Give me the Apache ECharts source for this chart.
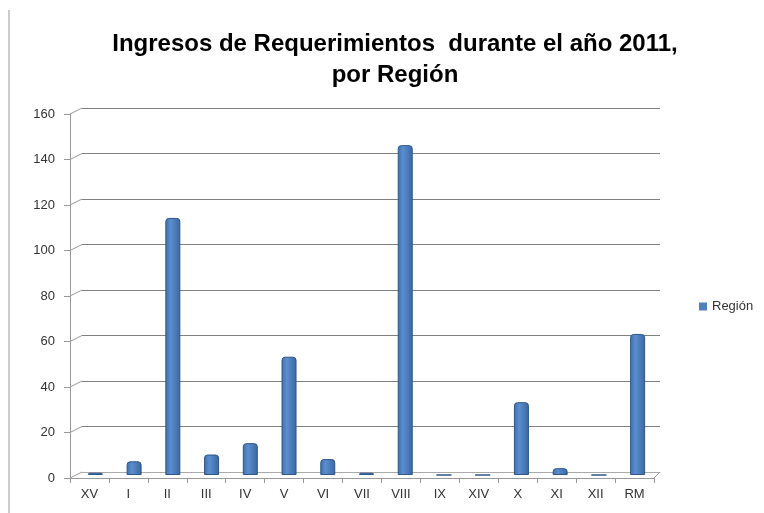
<!DOCTYPE html>
<html>
<head>
<meta charset="utf-8">
<script src="https://cdn.jsdelivr.net/npm/echarts@6/dist/echarts.min.js"></script>
<style>
  html, body { margin: 0; padding: 0; background: #fff; }
  #main { width: 764px; height: 513px; }
</style>
</head>
<body>
<div id="main"></div>
<script>
var regiones = ['XV', 'I', 'II', 'III', 'IV', 'V', 'VI', 'VII', 'VIII', 'IX', 'XIV', 'X', 'XI', 'XII', 'RM'];
var ingresos = [1, 6, 113, 9, 14, 52, 7, 1, 145, 0, 0, 32, 3, 0, 62];
var marcasY = [0, 20, 40, 60, 80, 100, 120, 140, 160];

var fuente = '"Liberation Sans", sans-serif';

var chart = echarts.init(document.getElementById('main'));
var option = {
    backgroundColor: '#fff',
    animation: false,
    title: {
        text: 'Ingresos de Requerimientos  durante el año 2011,\npor Región',
        left: 390,
        top: 24,
        textAlign: 'center',
        textStyle: {
            fontFamily: fuente,
            fontWeight: 'bold',
            fontSize: 24,
            lineHeight: 31,
            color: '#000'
        }
    },
    legend: {
        data: [{ name: 'Región', itemStyle: { color: '#4f81bd', borderWidth: 0 } }],
        left: 694,
        top: 295,
        itemWidth: 8,
        itemHeight: 8,
        itemGap: 5,
        icon: 'rect',
        textStyle: { fontFamily: fuente, fontSize: 13, color: '#333' }
    },
    grid: [
        // frente: ejes, marcas y etiquetas
        { left: 70, right: 110, top: 114, bottom: 35 },
        // pared de fondo: lineas de division
        { left: 82, right: 104, top: 108, bottom: 41 },
        // columnas a media profundidad
        { left: 76, right: 107, top: 111, bottom: 38 }
    ],
    xAxis: [
        {
            gridIndex: 0, type: 'category', data: regiones,
            axisLine: { lineStyle: { color: '#999' } },
            axisTick: { show: true, length: 5, lineStyle: { color: '#999' } },
            axisLabel: { fontFamily: fuente, fontSize: 13, color: '#333', margin: 10 },
            splitLine: { show: false }
        },
        {
            gridIndex: 1, type: 'category', data: regiones,
            axisLine: { lineStyle: { color: '#aaa' } },
            axisTick: { show: false }, axisLabel: { show: false }
        },
        {
            gridIndex: 2, type: 'category', data: regiones,
            axisLine: { show: false }, axisTick: { show: false }, axisLabel: { show: false }
        }
    ],
    yAxis: [
        {
            gridIndex: 0, type: 'value', min: 0, max: 160, interval: 20,
            axisLine: { show: true, lineStyle: { color: '#999' } },
            axisTick: { show: true, length: 6, lineStyle: { color: '#999' } },
            axisLabel: { fontFamily: fuente, fontSize: 13, color: '#333', margin: 15 },
            splitLine: { show: false }
        },
        {
            gridIndex: 1, type: 'value', min: 0, max: 160, interval: 20,
            axisLine: { show: false }, axisTick: { show: false }, axisLabel: { show: false },
            splitLine: { show: true, lineStyle: { color: '#808080', width: 1.2 } }
        },
        {
            gridIndex: 2, type: 'value', min: 0, max: 160, interval: 20,
            axisLine: { show: false }, axisTick: { show: false }, axisLabel: { show: false },
            splitLine: { show: false }
        }
    ],
    series: [
        {
            // diagonales de la pared lateral (efecto 3D)
            type: 'custom',
            xAxisIndex: 0,
            yAxisIndex: 0,
            silent: true,
            data: marcasY.map(function (v) { return [0, v]; }),
            renderItem: function (params, api) {
                var y = api.coord([0, api.value(1)])[1];
                var x = params.coordSys.x;
                return {
                    type: 'line',
                    shape: { x1: x, y1: y, x2: x + 12, y2: y - 6 },
                    style: { stroke: '#999', lineWidth: 1 }
                };
            }
        },
        {
            // diagonal del piso al final del eje
            type: 'custom',
            xAxisIndex: 0,
            yAxisIndex: 0,
            silent: true,
            data: [[0, 0]],
            renderItem: function (params, api) {
                var cs = params.coordSys;
                var y = api.coord([0, api.value(1)])[1];
                var x = cs.x + cs.width;
                return {
                    type: 'line',
                    shape: { x1: x, y1: y, x2: x + 6, y2: y - 6 },
                    style: { stroke: '#999', lineWidth: 1 }
                };
            }
        },
        {
            name: 'Región',
            type: 'bar',
            xAxisIndex: 2,
            yAxisIndex: 2,
            barWidth: 15,
            data: ingresos,
            itemStyle: {
                color: new echarts.graphic.LinearGradient(0, 0, 1, 0, [
                    { offset: 0, color: '#3f6fa8' },
                    { offset: 0.35, color: '#5b8ed0' },
                    { offset: 1, color: '#3a67a0' }
                ]),
                borderColor: '#2f5689',
                borderWidth: 1,
                borderRadius: [3, 3, 0, 0]
            }
        }
    ],
    graphic: [
        {
            type: 'line',
            shape: { x1: 9, y1: 10, x2: 9, y2: 513 },
            style: { stroke: '#999', lineWidth: 1 }
        }
    ]
};
chart.setOption(option);
</script>
</body>
</html>
